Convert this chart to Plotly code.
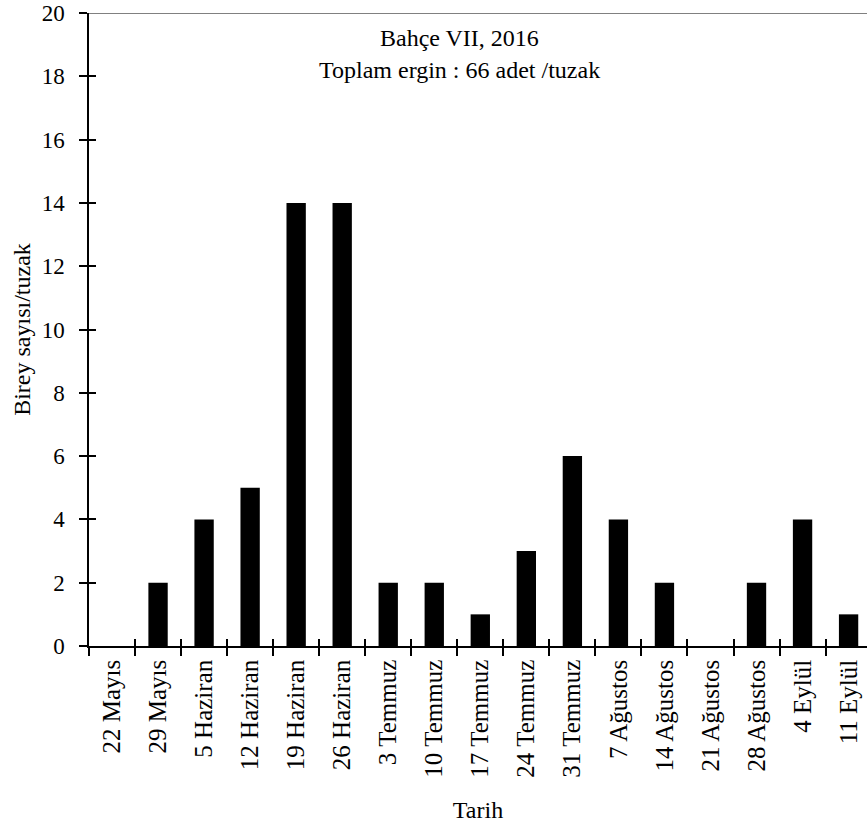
import plotly.graph_objects as go

# Weekly trap counts (adults per trap), garden VII, 2016
tarihler = ["22 Mayıs", "29 Mayıs", "5 Haziran", "12 Haziran", "19 Haziran",
            "26 Haziran", "3 Temmuz", "10 Temmuz", "17 Temmuz", "24 Temmuz",
            "31 Temmuz", "7 Ağustos", "14 Ağustos", "21 Ağustos", "28 Ağustos",
            "4 Eylül", "11 Eylül"]
birey = [0, 2, 4, 5, 14, 14, 2, 2, 1, 3, 6, 4, 2, 0, 2, 4, 1]
y_ticks = [0, 2, 4, 6, 8, 10, 12, 14, 16, 18, 20]

FONT = "Liberation Serif, Times New Roman, serif"
FS = 24

fig = go.Figure()
fig.add_trace(go.Bar(x=tarihler, y=birey, marker=dict(color="black", line=dict(width=0)),
                     showlegend=False))
# invisible twin trace so the overlaid axes draw the inner half of each tick
fig.add_trace(go.Bar(x=tarihler, y=[None] * len(tarihler), xaxis="x2", yaxis="y2",
                     showlegend=False, hoverinfo="skip"))

x_range = [-0.5, 16.4]
fig.update_layout(
    width=867, height=829,
    margin=dict(l=89, r=0, t=13, b=183),
    plot_bgcolor="white", paper_bgcolor="white",
    bargap=0.58,
    font=dict(family=FONT, size=FS, color="black"),
    xaxis=dict(type="category", range=x_range, tickson="boundaries",
               ticks="outside", ticklen=8, tickwidth=1.5, tickcolor="black",
               showline=True, linecolor="black", linewidth=1.5,
               tickangle=-90, tickfont=dict(family=FONT, size=25),
               ticklabelstandoff=2,
               showgrid=False, zeroline=False,
               title=dict(text="Tarih", font=dict(family=FONT, size=FS), standoff=25)),
    yaxis=dict(range=[0, 20], tickvals=y_ticks, ticks="outside", ticklen=8,
               tickwidth=1.5, tickcolor="black", showline=True, linecolor="black",
               linewidth=1.5, showgrid=False, zeroline=False,
               ticklabelstandoff=10,
               tickfont=dict(family=FONT, size=23),
               title=dict(text="Birey sayısı/tuzak", font=dict(family=FONT, size=FS),
                          standoff=4)),
    xaxis2=dict(type="category", range=x_range, overlaying="x", tickson="boundaries",
                ticks="inside", ticklen=7, tickwidth=1.5, tickcolor="black",
                showticklabels=False, showgrid=False, zeroline=False, showline=False,
                matches="x", side="bottom"),
    yaxis2=dict(range=[0, 20], tickvals=y_ticks, overlaying="y", ticks="inside",
                ticklen=7, tickwidth=1.5, tickcolor="black", showticklabels=False,
                showgrid=False, zeroline=False, showline=False, side="left"),
)

# grey line along the top of the value range
fig.add_shape(type="line", xref="paper", yref="y", x0=0, x1=1, y0=20, y1=20,
              line=dict(color="#808080", width=2))

fig.add_annotation(text="Bahçe VII, 2016", xref="paper", yref="y",
                   x=(459 - 89) / (867 - 89), y=19.21, showarrow=False,
                   font=dict(family=FONT, size=FS))
fig.add_annotation(text="Toplam ergin : 66 adet /tuzak", xref="paper", yref="y",
                   x=(459 - 89) / (867 - 89), y=18.2, showarrow=False,
                   font=dict(family=FONT, size=FS))

fig.write_html("out.html")
